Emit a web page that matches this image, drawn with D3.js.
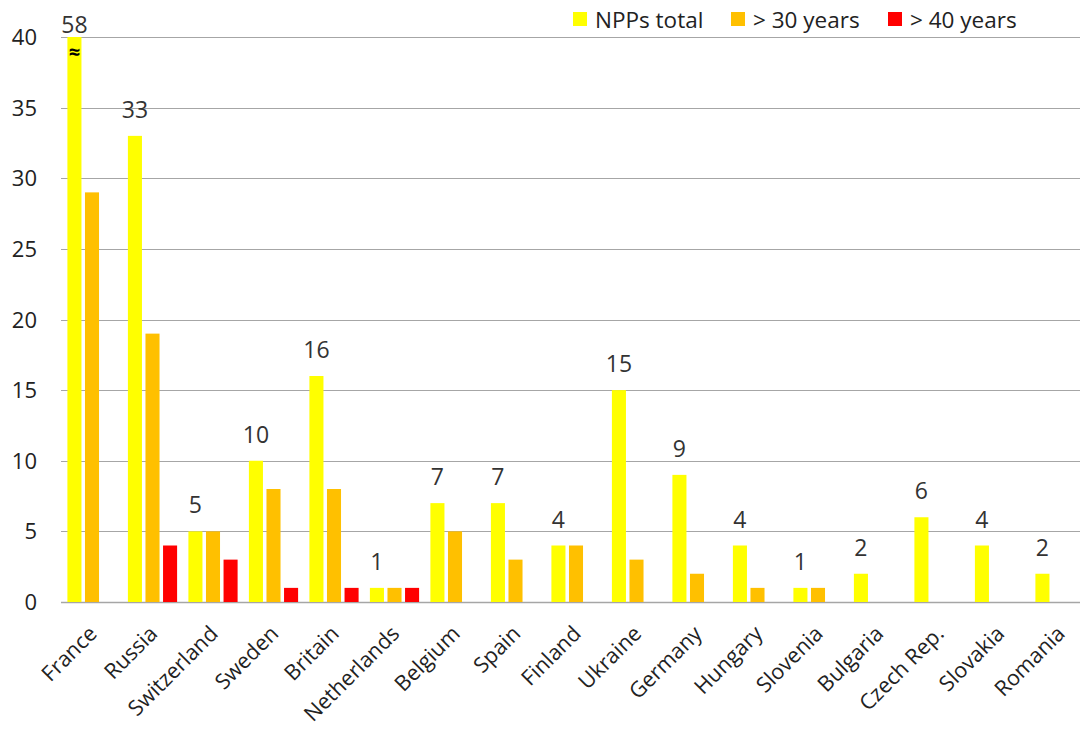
<!DOCTYPE html>
<html lang="en">
  <head>
    <meta charset="UTF-8" />
    <title>NPPs by country</title>
    <script src="https://d3js.org/d3.v7.min.js"></script>
    <style>
      body { margin: 0; background: #fff; }
      text { font-family: "Open Sans", "Liberation Sans", sans-serif; fill: #222; }
      .tick-label { font-size: 22px; }
      .cat-label { font-size: 21.5px; }
      .value-label { font-size: 23px; fill: #333; }
    </style>
  </head>
  <body>
    <svg id="chart" width="1080" height="729"></svg>
    <script>
      // data
      const countries = ["France", "Russia", "Switzerland", "Sweden", "Britain", "Netherlands", "Belgium",
        "Spain", "Finland", "Ukraine", "Germany", "Hungary", "Slovenia", "Bulgaria", "Czech Rep.", "Slovakia", "Romania"];
      const seriesNames = ["NPPs total", "> 30 years", "> 40 years"];
      const nppsTotal = [58, 33, 5, 10, 16, 1, 7, 7, 4, 15, 9, 4, 1, 2, 6, 4, 2];
      const over30 = [29, 19, 5, 8, 8, 1, 5, 3, 4, 3, 2, 1, 1, 0, 0, 0, 0];
      const over40 = [0, 4, 3, 1, 1, 1, 0, 0, 0, 0, 0, 0, 0, 0, 0, 0, 0];
      const yTicks = [0, 5, 10, 15, 20, 25, 30, 35, 40];
      const colors = ["#ffff00", "#ffc000", "#ff0000"];

      const width = 1080, height = 729;
      const margin = { top: 37, bottom: 127, left: 61 };
      const yMax = 40;
      const bandStep = 60.5; // plot runs a little past the right edge of the picture

      const svg = d3.select("#chart");

      const x0 = d3.scaleBand().domain(countries)
        .range([margin.left, margin.left + countries.length * bandStep]).padding(0);
      const x1 = d3.scaleBand().domain(seriesNames)
        .range([31 - 24.6, 31 + 24.6]).paddingInner(0.2);
      const y = d3.scaleLinear().domain([0, yMax]).range([height - margin.bottom, margin.top]);

      // gridlines
      svg.append("g")
        .selectAll("line")
        .data(yTicks)
        .join("line")
        .attr("x1", margin.left)
        .attr("x2", width)
        .attr("y1", d => Math.round(y(d)) + 0.5)
        .attr("y2", d => Math.round(y(d)) + 0.5)
        .attr("stroke", "#a6a6a6")
        .attr("stroke-width", d => d === 0 ? 1.5 : 1);

      // y tick labels
      svg.append("g")
        .selectAll("text")
        .data(yTicks)
        .join("text")
        .attr("class", "tick-label")
        .attr("x", 37)
        .attr("y", d => y(d) + 8)
        .attr("text-anchor", "end")
        .text(d => d);

      // bars
      const table = countries.map((c, i) => ({ country: c, values: [nppsTotal[i], over30[i], over40[i]] }));

      const groups = svg.append("g")
        .selectAll("g")
        .data(table)
        .join("g")
        .attr("transform", d => `translate(${x0(d.country)},0)`);

      groups.selectAll("rect")
        .data(d => d.values.map((v, k) => ({ key: seriesNames[k], value: v, k })))
        .join("rect")
        .filter(d => d.value > 0)
        .attr("x", d => x1(d.key))
        .attr("width", x1.bandwidth())
        .attr("y", d => y(Math.min(d.value, yMax)))
        .attr("height", d => y(0) - y(Math.min(d.value, yMax)))
        .attr("fill", d => colors[d.k]);

      // value labels on totals (clipped bar gets its label tucked just above the top)
      groups.append("text")
        .attr("class", "value-label")
        .attr("x", x1(seriesNames[0]) + x1.bandwidth() / 2)
        .attr("y", d => d.values[0] > yMax ? y(yMax) - 4 : y(d.values[0]) - 18)
        .attr("text-anchor", "middle")
        .text(d => d.values[0]);

      // axis break mark on clipped bars
      groups.filter(d => d.values[0] > yMax)
        .append("text")
        .attr("x", x1(seriesNames[0]) + x1.bandwidth() / 2)
        .attr("y", y(yMax) + 22)
        .attr("text-anchor", "middle")
        .style("font-size", "20px")
        .style("font-weight", "bold")
        .style("fill", "#000")
        .text("\u2248");

      // category labels
      svg.append("g")
        .selectAll("text")
        .data(countries)
        .join("text")
        .attr("class", "cat-label")
        .attr("text-anchor", "end")
        .attr("transform", d => `translate(${x0(d) + x0.bandwidth() / 2 + 7},${y(0) + 33}) rotate(-45)`)
        .text(d => d);

      // legend
      const legendX = [573, 731, 888];
      const legend = svg.append("g")
        .selectAll("g")
        .data(seriesNames)
        .join("g")
        .attr("transform", (d, i) => `translate(${legendX[i]},12)`);
      legend.append("rect")
        .attr("width", 14)
        .attr("height", 14)
        .attr("fill", (d, i) => colors[i]);
      legend.append("text")
        .attr("x", 22)
        .attr("y", 16)
        .style("font-size", "22.5px")
        .text(d => d);
    </script>
  </body>
</html>
